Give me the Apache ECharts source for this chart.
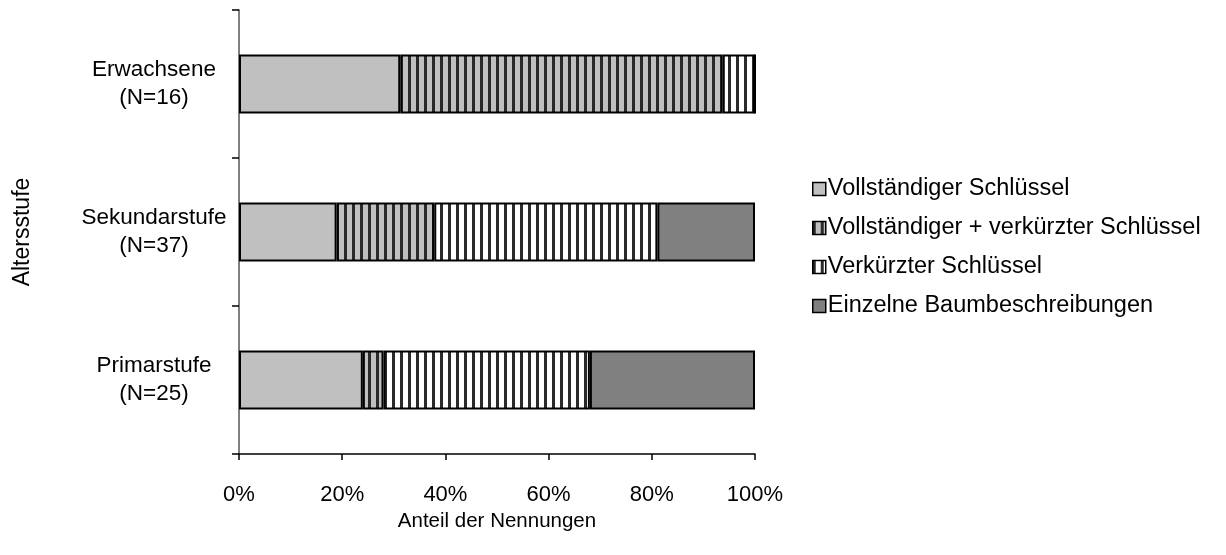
<!DOCTYPE html>
<html>
<head>
<meta charset="utf-8">
<script src="https://cdn.jsdelivr.net/npm/echarts@6/dist/echarts.min.js"></script>
<style>
  html, body { margin: 0; padding: 0; background: #fff; }
  #chart { width: 1226px; height: 555px; }
</style>
</head>
<body>
<div id="chart"></div>
<script>
// categories bottom to top (ECharts category y-axis starts at the bottom)
const categories = ['Primarstufe\n(N=25)', 'Sekundarstufe\n(N=37)', 'Erwachsene\n(N=16)']
const seriesNames = ['Vollständiger Schlüssel', 'Vollständiger + verkürzter Schlüssel', 'Verkürzter Schlüssel', 'Einzelne Baumbeschreibungen']
const vollstaendig = [24, 18.92, 31.25]
const vollUndVerk = [4, 18.92, 62.5]
const verkuerzt = [40, 43.24, 6.25]
const einzelne = [32, 18.92, 0]
const xTicks = [0, 20, 40, 60, 80, 100]

const FONT = 'Liberation Sans, Arial, sans-serif'

const stripes = (bg) => {
  const c = document.createElement('canvas')
  c.width = 8
  c.height = 8
  const ctx = c.getContext('2d')
  ctx.fillStyle = bg
  ctx.fillRect(0, 0, 8, 8)
  ctx.fillStyle = '#2a2a2a'
  ctx.fillRect(0, 0, 3, 8)
  return { image: c, repeat: 'repeat' }
}

const fills = ['#c0c0c0', stripes('#c0c0c0'), stripes('#ffffff'), '#808080']
const values = [vollstaendig, vollUndVerk, verkuerzt, einzelne]

const chart = echarts.init(document.getElementById('chart'))
chart.setOption({
  animation: false,
  textStyle: { fontFamily: FONT },
  grid: { left: 239, right: 471, top: 10, bottom: 101 },
  legend: {
    orient: 'vertical',
    left: 807,
    top: 172,
    icon: 'rect',
    itemWidth: 13,
    itemHeight: 13,
    itemGap: 15,
    selectedMode: false,
    itemStyle: { borderColor: '#000', borderWidth: 1.5 },
    textStyle: { fontSize: 23.5, color: '#000', fontFamily: FONT, padding: [0, 0, 0, -3] },
    data: seriesNames
  },
  xAxis: {
    type: 'value',
    min: 0,
    max: 100,
    interval: 20,
    name: 'Anteil der Nennungen',
    nameLocation: 'middle',
    nameGap: 57,
    nameTextStyle: { fontSize: 20.5, color: '#000', fontFamily: FONT },
    axisLine: { show: true, lineStyle: { color: '#000', width: 1.5 } },
    axisTick: { show: true, length: 6, lineStyle: { color: '#000', width: 1.5 } },
    axisLabel: {
      fontSize: 22, color: '#000', margin: 30,
      formatter: v => xTicks.includes(v) ? v + '%' : ''
    },
    splitLine: { show: false }
  },
  yAxis: {
    type: 'category',
    data: categories,
    name: 'Altersstufe',
    nameLocation: 'middle',
    nameGap: 205,
    nameTextStyle: { fontSize: 23, color: '#000', fontFamily: FONT },
    axisLine: { show: true, lineStyle: { color: '#808080', width: 2 } },
    axisTick: { show: true, length: 7, lineStyle: { color: '#000', width: 1.5 } },
    axisLabel: { fontSize: 22.5, color: '#000', lineHeight: 28, align: 'center', margin: 85 }
  },
  series: seriesNames.map((name, i) => ({
    name,
    type: 'bar',
    stack: 'total',
    barWidth: 59,
    data: values[i],
    itemStyle: { color: fills[i], borderColor: '#000', borderWidth: 2 }
  }))
})
</script>
</body>
</html>
